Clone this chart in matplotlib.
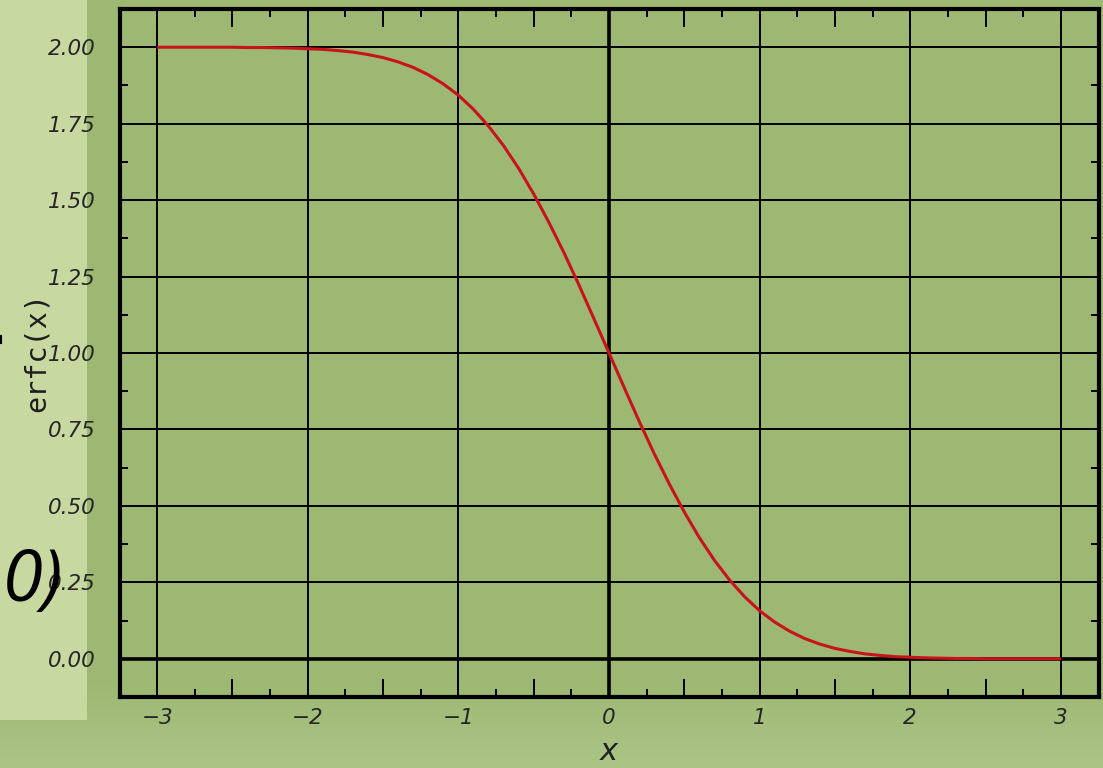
import numpy as np
import matplotlib
matplotlib.use("Agg")
import matplotlib.pyplot as plt
from matplotlib.patches import Rectangle
from matplotlib.lines import Line2D
from matplotlib.ticker import FixedLocator, FuncFormatter

# Sampled values of the complementary error function
x_vals = [-3.0, -2.9, -2.8, -2.7, -2.6, -2.5, -2.4, -2.3, -2.2, -2.1,
          -2.0, -1.9, -1.8, -1.7, -1.6, -1.5, -1.4, -1.3, -1.2, -1.1,
          -1.0, -0.9, -0.8, -0.7, -0.6, -0.5, -0.4, -0.3, -0.2, -0.1,
          0.0, 0.1, 0.2, 0.3, 0.4, 0.5, 0.6, 0.7, 0.8, 0.9,
          1.0, 1.1, 1.2, 1.3, 1.4, 1.5, 1.6, 1.7, 1.8, 1.9,
          2.0, 2.1, 2.2, 2.3, 2.4, 2.5, 2.6, 2.7, 2.8, 2.9, 3.0]
erfc_vals = [2.000, 2.000, 2.000, 2.000, 2.000, 2.000, 1.999, 1.999, 1.998, 1.997,
             1.995, 1.993, 1.989, 1.984, 1.976, 1.966, 1.952, 1.934, 1.910, 1.880,
             1.843, 1.797, 1.742, 1.678, 1.604, 1.520, 1.428, 1.329, 1.223, 1.112,
             1.000, 0.888, 0.777, 0.671, 0.572, 0.480, 0.396, 0.322, 0.258, 0.203,
             0.157, 0.120, 0.090, 0.066, 0.048, 0.034, 0.024, 0.016, 0.011, 0.007,
             0.005, 0.003, 0.002, 0.001, 0.001, 0.000, 0.000, 0.000, 0.000, 0.000, 0.000]

x_major = [-3, -2, -1, 0, 1, 2, 3]
x_half = [-3.0, -2.5, -2.0, -1.5, -1.0, -0.5, 0.0, 0.5, 1.0, 1.5, 2.0, 2.5, 3.0]
x_quarter = [-2.75, -2.25, -1.75, -1.25, -0.75, -0.25, 0.25, 0.75, 1.25, 1.75, 2.25, 2.75]
y_major = [0.0, 0.25, 0.5, 0.75, 1.0, 1.25, 1.5, 1.75, 2.0]
y_minor = [-0.125, 0.125, 0.375, 0.625, 0.875, 1.125, 1.375, 1.625, 1.875, 2.125]

W, H = 1103, 768
BG = "#9db872"
PANEL = "#c7d8a1"

fig = plt.figure(figsize=(W / 100, H / 100), dpi=100, facecolor=BG)

# lighter band fading in along the bottom edge
grad_ax = fig.add_axes([0, 0, 1, 90 / H], zorder=0)
grad = np.linspace(0, 1, 100).reshape(-1, 1)
c_top = np.array(matplotlib.colors.to_rgb(BG))
c_bot = np.array(matplotlib.colors.to_rgb("#abc586"))
img = c_top[None, None, :] * grad[:, :, None] + c_bot[None, None, :] * (1 - grad[:, :, None])
grad_ax.imshow(img, aspect="auto", origin="lower", extent=[0, 1, 0, 1])
grad_ax.set_axis_off()

# pale side panel on the left
fig.patches.append(Rectangle((0, 1 - 720 / H), 87 / W, 720 / H,
                             transform=fig.transFigure, facecolor=PANEL,
                             edgecolor="none", zorder=1))

ax = fig.add_axes([119.5 / W, 1 - 697 / H, 979 / W, 688 / H], zorder=2)
ax.set_facecolor(BG)
ax.set_xlim(-3.25, 3.25)
ax.set_ylim(-0.125, 2.125)

# grid at integer x and quarter y
for xv in x_major:
    ax.axvline(xv, color="black", lw=1.4 if xv != 0 else 2.6, zorder=1)
for yv in y_major:
    ax.axhline(yv, color="black", lw=1.4 if yv != 0 else 2.6, zorder=1)

ax.plot(x_vals, erfc_vals, color="#c8121c", lw=2.2, zorder=3,
        solid_capstyle="butt", solid_joinstyle="round")

for s in ax.spines.values():
    s.set_linewidth(3.0)
    s.set_color("black")
    s.set_zorder(4)

tick_font = dict(family="DejaVu Sans", style="italic", size=15.5, color="#262626")

ax.xaxis.set_major_locator(FixedLocator(x_half))
ax.xaxis.set_minor_locator(FixedLocator(x_quarter))
ax.xaxis.set_major_formatter(FuncFormatter(
    lambda v, p: (("\u2212%d" % abs(round(v))) if v < 0 else "%d" % round(v)) if abs(v - round(v)) < 1e-9 else ""))
ax.yaxis.set_major_locator(FixedLocator(y_major))
ax.yaxis.set_minor_locator(FixedLocator(y_minor))
ax.yaxis.set_major_formatter(FuncFormatter(lambda v, p: "%.2f" % v))

ax.tick_params(axis="x", which="major", direction="in", length=13, width=1.4,
               top=True, bottom=True, pad=8, color="black")
ax.tick_params(axis="x", which="minor", direction="in", length=6, width=1.4,
               top=True, bottom=True, color="black")
ax.tick_params(axis="y", which="major", direction="in", length=0,
               left=True, right=True, pad=17)
ax.tick_params(axis="y", which="minor", direction="in", length=6, width=1.4,
               left=True, right=True, color="black")
for lab in ax.get_xticklabels() + ax.get_yticklabels():
    lab.set_fontfamily(tick_font["family"])
    lab.set_fontstyle(tick_font["style"])
    lab.set_fontsize(tick_font["size"])
    lab.set_color(tick_font["color"])

fig.text(609 / W, 1 - 760 / H, "x", ha="center", va="baseline",
         family="DejaVu Sans", style="italic", fontsize=22, color="#222222")
fig.text(37 / W, 1 - 352 / H, "erfc(x)", ha="center", va="center", rotation=90,
         family="DejaVu Sans Mono", fontsize=20.5, color="#1e1e1e")

fig.text(3 / W, 1 - 601 / H, "0)", ha="left", va="baseline",
         family="Open Sans", style="italic", fontsize=52, color="black", zorder=5)
fig.add_artist(Line2D([0.5 / W, 0.5 / W], [1 - 336 / H, 1 - 343 / H],
                      transform=fig.transFigure, color="black", lw=1.5))

fig.savefig("out.png", dpi=100, facecolor=BG)
